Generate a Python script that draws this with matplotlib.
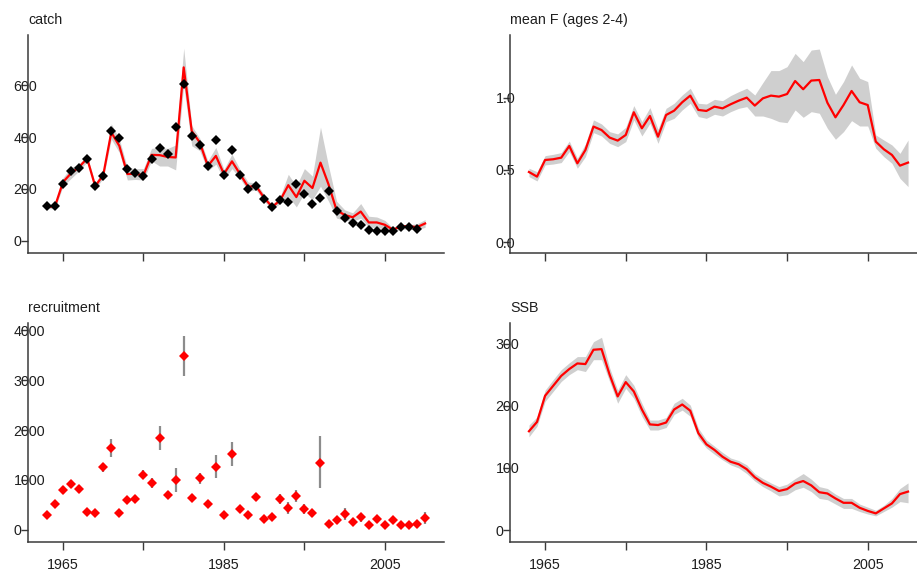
import numpy as np
import matplotlib
matplotlib.use("Agg")
import matplotlib.pyplot as plt

plt.rcParams['font.family'] = ['Liberation Sans', 'DejaVu Sans']
plt.rcParams['font.size'] = 10.3

years = np.arange(1963, 2011)
catch_years = np.arange(1963, 2010)

# observed catch
catch_obs = [135, 135, 217, 269, 281, 316, 210, 249, 423, 397, 277, 261, 249, 316,
             358, 335, 440, 604, 405, 370, 288, 390, 255, 351, 255, 199, 210, 160,
             129, 156, 149, 218, 179, 143, 164, 191, 113, 88, 66, 61, 42, 38, 38,
             38, 52, 51, 44]
# estimated catch with interval
catch_est = [130, 132, 226, 260, 284, 317, 210, 253, 418, 366, 257, 258, 252, 331,
             330, 323, 321, 669, 423, 379, 288, 327, 257, 306, 257, 208, 210, 165,
             130, 156, 214, 168, 231, 203, 301, 217, 117, 99, 90, 112, 70, 70, 61,
             42, 55, 55, 52, 66]
catch_hi = [138, 143, 243, 282, 297, 327, 223, 269, 451, 392, 282, 278, 278, 356,
            360, 356, 369, 743, 444, 395, 308, 360, 275, 334, 275, 226, 223, 178,
            138, 171, 256, 210, 278, 249, 438, 288, 152, 119, 107, 143, 94, 91, 78,
            49, 61, 61, 65, 81]
catch_lo = [123, 123, 210, 240, 269, 304, 200, 240, 392, 340, 234, 236, 234, 308,
            288, 288, 273, 600, 366, 347, 269, 295, 236, 278, 240, 191, 195, 152,
            122, 143, 171, 130, 184, 158, 210, 152, 87, 78, 74, 87, 51, 51, 44,
            32, 44, 44, 42, 51]

# mean fishing mortality, ages 2-4
f_est = [0.486, 0.454, 0.569, 0.574, 0.585, 0.666, 0.546, 0.638, 0.800, 0.776,
         0.724, 0.703, 0.742, 0.899, 0.788, 0.873, 0.730, 0.880, 0.910, 0.968,
         1.014, 0.915, 0.908, 0.938, 0.926, 0.954, 0.979, 1.000, 0.945, 0.995,
         1.014, 1.007, 1.025, 1.115, 1.058, 1.118, 1.122, 0.965, 0.864, 0.949,
         1.046, 0.968, 0.949, 0.696, 0.643, 0.604, 0.530, 0.551]
f_hi = [0.512, 0.488, 0.599, 0.608, 0.620, 0.700, 0.581, 0.680, 0.846, 0.818,
        0.765, 0.749, 0.795, 0.945, 0.834, 0.931, 0.781, 0.926, 0.961, 1.018,
        1.065, 0.961, 0.956, 0.988, 0.979, 1.014, 1.041, 1.065, 1.018, 1.104,
        1.187, 1.187, 1.214, 1.306, 1.249, 1.329, 1.336, 1.145, 1.023, 1.111,
        1.226, 1.134, 1.111, 0.742, 0.707, 0.673, 0.615, 0.707]
f_lo = [0.454, 0.424, 0.535, 0.541, 0.551, 0.627, 0.512, 0.592, 0.758, 0.735,
        0.684, 0.661, 0.696, 0.846, 0.735, 0.823, 0.684, 0.834, 0.857, 0.915,
        0.961, 0.869, 0.857, 0.885, 0.873, 0.903, 0.926, 0.938, 0.873, 0.873,
        0.857, 0.834, 0.827, 0.915, 0.864, 0.903, 0.892, 0.788, 0.712, 0.765,
        0.841, 0.804, 0.804, 0.650, 0.592, 0.546, 0.442, 0.385]

# recruitment with interval
rec_est = [289, 510, 792, 913, 812, 356, 336, 1262, 1638, 336, 591, 611, 1094, 940,
           1846, 698, 993, 3490, 638, 1040, 510, 1262, 289, 1517, 409, 289, 658, 208,
           248, 617, 430, 678, 416, 329, 1342, 107, 188, 322, 148, 248, 87, 208, 87,
           188, 87, 87, 107, 235]
rec_lo = [255, 460, 720, 830, 740, 320, 300, 1161, 1463, 300, 530, 545, 1027, 826,
          1597, 630, 758, 3087, 570, 926, 455, 1040, 255, 1282, 365, 255, 577, 180,
          215, 523, 309, 557, 309, 255, 839, 80, 121, 201, 110, 154, 60, 134, 60,
          134, 60, 60, 40, 107]
rec_hi = [325, 560, 870, 1000, 890, 395, 375, 1329, 1819, 375, 660, 690, 1195, 1040,
          2081, 770, 1228, 3893, 720, 1141, 570, 1497, 325, 1752, 455, 325, 738, 240,
          285, 711, 550, 792, 523, 403, 1886, 140, 255, 436, 190, 322, 120, 268, 120,
          255, 120, 125, 168, 356]

# spawning stock biomass with interval
ssb_est = [159, 174, 216, 232, 248, 259, 268, 267, 290, 291, 250, 215, 238, 223, 194,
           170, 169, 173, 194, 202, 192, 156, 138, 129, 118, 110, 106, 98, 85, 76, 70,
           63, 66, 75, 79, 72, 61, 59, 51, 44, 44, 36, 31, 27, 35, 43, 58, 62]
ssb_hi = [169, 182, 225, 242, 258, 269, 279, 279, 303, 310, 261, 225, 250, 233, 204,
          177, 177, 181, 204, 212, 201, 164, 145, 135, 125, 116, 112, 105, 91, 83, 76,
          70, 74, 83, 91, 82, 70, 67, 58, 51, 51, 42, 37, 32, 40, 51, 67, 76]
ssb_lo = [150, 167, 207, 223, 239, 250, 258, 255, 274, 274, 239, 204, 228, 212, 183,
          161, 161, 165, 186, 193, 183, 148, 132, 122, 113, 105, 100, 91, 79, 70, 63,
          55, 57, 65, 69, 62, 51, 49, 42, 35, 35, 30, 26, 23, 30, 37, 46, 44]

RED = '#ff0000'
BAND = '#cfcfcf'
AXC = '#3a3a3a'
TXT = '#1e1e1e'

W, H = 917, 574
fig = plt.figure(figsize=(W / 100, H / 100), dpi=100)


def make_axes(x0, x1, y0, y1):
    return fig.add_axes([x0 / W, 1 - y1 / H, (x1 - x0) / W, (y1 - y0) / H])


def style(ax, title, yticks, ylabels, ylim, show_xlabels):
    ax.set_xlim(1960.65, 2012.35)
    ax.set_ylim(*ylim)
    for s in ('top', 'right'):
        ax.spines[s].set_visible(False)
    for s in ('left', 'bottom'):
        ax.spines[s].set_color(AXC)
        ax.spines[s].set_linewidth(1.1)
    ax.set_xticks([1965, 1975, 1985, 1995, 2005])
    if show_xlabels:
        ax.set_xticklabels(['1965', '', '1985', '', '2005'])
    else:
        ax.set_xticklabels([])
    ax.tick_params(axis='x', length=5.5, width=1.0, color=AXC, pad=6,
                   labelcolor=TXT, labelsize=10.3)
    ax.set_yticks(yticks)
    ax.set_yticklabels(ylabels)
    # short outward ticks; labels sit over them, starting left of the axis
    ax.tick_params(axis='y', length=5, width=1.0, color=AXC, pad=5.4,
                   labelcolor=TXT, labelsize=10.3)
    for lab in ax.get_yticklabels():
        lab.set_horizontalalignment('left')
    ax.annotate(title, xy=(0, 1), xycoords='axes fraction', xytext=(0, 11),
                textcoords='offset points', ha='left', va='center',
                color=TXT, fontsize=10.3)


# catch
ax1 = make_axes(28, 444, 35, 253)
ax1.fill_between(years, catch_lo, catch_hi, color=BAND, lw=0)
ax1.plot(years, catch_est, color=RED, lw=1.6)
ax1.plot(catch_years, catch_obs, ls='none', marker='D', ms=4.8, mew=0, color='black')
style(ax1, 'catch', [0, 200, 400, 600], ['0', '200', '400', '600'], (-48, 794), False)

# mean F
ax2 = make_axes(510, 927, 35, 253)
ax2.fill_between(years, f_lo, f_hi, color=BAND, lw=0)
ax2.plot(years, f_est, color=RED, lw=1.6)
style(ax2, 'mean F (ages 2-4)', [0.0, 0.5, 1.0], ['0.0', '0.5', '1.0'],
      (-0.074, 1.433), False)

# recruitment
ax3 = make_axes(28, 444, 323, 542)
ax3.vlines(years, rec_lo, rec_hi, color='#8c8c8c', lw=1.6)
ax3.plot(years, rec_est, ls='none', marker='D', ms=4.8, mew=0, color=RED)
style(ax3, 'recruitment', [0, 1000, 2000, 3000, 4000],
      ['0', '1000', '2000', '3000', '4000'], (-248, 4148), True)

# SSB
ax4 = make_axes(510, 927, 323, 542)
ax4.fill_between(years, ssb_lo, ssb_hi, color=BAND, lw=0)
ax4.plot(years, ssb_est, color=RED, lw=1.6)
style(ax4, 'SSB', [0, 100, 200, 300], ['0', '100', '200', '300'], (-19, 333), True)

fig.savefig('out.png', dpi=100)
